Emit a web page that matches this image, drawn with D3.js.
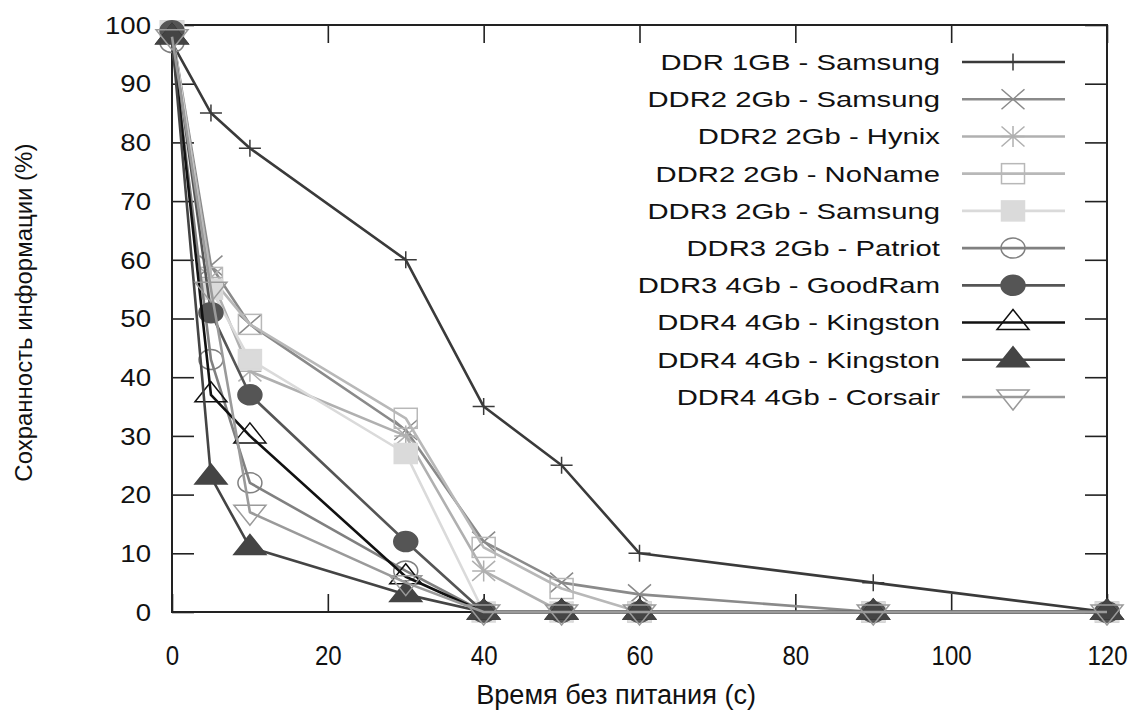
<!DOCTYPE html>
<html>
<head>
<meta charset="utf-8">
<script src="https://cdn.jsdelivr.net/npm/d3@7"></script>
<style>
  body { margin: 0; background: #fff; }
  text { font-family: "Liberation Sans", Arial, sans-serif; fill: #111; }
</style>
</head>
<body>
<div class="vis-holder"></div>
<script>
// time without power (s)
const times = [0, 5, 10, 30, 40, 50, 60, 90, 120];

const seriesNames = [
  'DDR 1GB - Samsung',
  'DDR2 2Gb - Samsung',
  'DDR2 2Gb - Hynix',
  'DDR2 2Gb - NoName',
  'DDR3 2Gb - Samsung',
  'DDR3 2Gb - Patriot',
  'DDR3 4Gb - GoodRam',
  'DDR4 4Gb - Kingston',
  'DDR4 4Gb - Kingston',
  'DDR4 4Gb - Corsair'
];

// retention (%)
const ddr1Samsung   = [97, 85, 79, 60, 35, 25, 10, 5, 0];
const ddr2Samsung   = [99, 59, 49, 31, 12, 5, 3, 0, 0];
const ddr2Hynix     = [99, 57, 41, 30, 7, 0, 0, 0, 0];
const ddr2NoName    = [99, 57, 49, 33, 11, 4, 0, 0, 0];
const ddr3Samsung   = [99, 55, 43, 27, 0, 0, 0, 0, 0];
const ddr3Patriot   = [97, 43, 22, 7, 0, 0, 0, 0, 0];
const ddr3GoodRam   = [99, 51, 37, 12, 0, 0, 0, 0, 0];
const ddr4KingstonA = [98, 37, 30, 6, 0, 0, 0, 0, 0];
const ddr4KingstonB = [98, 23, 11, 3, 0, 0, 0, 0, 0];
const ddr4Corsair   = [98, 55, 17, 5, 0, 0, 0, 0, 0];

const xTicks = [0, 20, 40, 60, 80, 100, 120];
const yTicks = [0, 10, 20, 30, 40, 50, 60, 70, 80, 90, 100];

const seriesValues = [ddr1Samsung, ddr2Samsung, ddr2Hynix, ddr2NoName, ddr3Samsung,
  ddr3Patriot, ddr3GoodRam, ddr4KingstonA, ddr4KingstonB, ddr4Corsair];
const seriesColors = ['#3a3a3a', '#8a8a8a', '#b0b0b0', '#b8b8b8', '#dadada',
  '#808080', '#555555', '#111111', '#444444', '#9a9a9a'];
const seriesMarkers = ['plus', 'cross', 'star', 'square', 'squareFill',
  'circle', 'circleFill', 'triUp', 'triUpFill', 'triDown'];

const width = 1133;
const height = 718;
const margin = {top: 25, right: 26, bottom: 106, left: 172};
const innerW = width - margin.left - margin.right;
const innerH = height - margin.top - margin.bottom;

const svg = d3.select('.vis-holder')
  .append('svg')
    .attr('width', width)
    .attr('height', height);

const chart = svg.append('g')
  .attr('transform', 'translate(' + margin.left + ',' + margin.top + ')');

const xScale = d3.scaleLinear().domain([0, 120]).range([0, innerW]);
const yScale = d3.scaleLinear().domain([0, 100]).range([innerH, 0]);

// gnuplot style: ticks inside, mirrored on all four sides
function styleAxis(g) {
  g.select('.domain').remove();
  g.selectAll('.tick line').attr('stroke', '#222').attr('stroke-width', 1.6);
}

chart.append('g')
  .attr('transform', 'translate(0,' + innerH + ')')
  .call(d3.axisBottom(xScale).tickValues(xTicks).tickSize(-18))
  .call(styleAxis)
  .call(g => g.selectAll('.tick text')
    .attr('y', null).attr('dy', null)
    .attr('font-size', 28)
    .attr('transform', 'translate(0,53) scale(0.86,1)'));

chart.append('g')
  .call(d3.axisTop(xScale).tickValues(xTicks).tickSize(-18).tickFormat(''))
  .call(styleAxis);

chart.append('g')
  .call(d3.axisLeft(yScale).tickValues(yTicks).tickSize(-22))
  .call(styleAxis)
  .call(g => g.selectAll('.tick text')
    .attr('x', null).attr('dy', '0.36em')
    .attr('font-size', 23)
    .attr('transform', 'translate(-21,0) scale(1.2,1)'));

chart.append('g')
  .attr('transform', 'translate(' + innerW + ',0)')
  .call(d3.axisRight(yScale).tickValues(yTicks).tickSize(-22).tickFormat(''))
  .call(styleAxis);

// frame
chart.append('rect')
  .attr('width', innerW)
  .attr('height', innerH)
  .attr('fill', 'none')
  .attr('stroke', '#222')
  .attr('stroke-width', 2);

// axis titles
svg.append('text')
  .attr('x', margin.left + xScale(57))
  .attr('y', 704)
  .attr('text-anchor', 'middle')
  .attr('font-size', 27)
  .attr('textLength', 280)
  .attr('lengthAdjust', 'spacingAndGlyphs')
  .text('Время без питания (с)');

svg.append('text')
  .attr('transform', 'translate(32,' + (margin.top + yScale(51)) + ') rotate(-90)')
  .attr('text-anchor', 'middle')
  .attr('font-size', 24)
  .attr('textLength', 338)
  .attr('lengthAdjust', 'spacingAndGlyphs')
  .text('Сохранность информации (%)');

function drawMarker(g, type, color) {
  const filled = type.endsWith('Fill');
  const fill = filled ? color : 'none';
  const sw = 1.5;
  if (type === 'plus') {
    g.append('path').attr('d', 'M-11,0H11M0,-8.5V8.5')
      .attr('stroke', color).attr('stroke-width', sw).attr('fill', 'none');
  } else if (type === 'cross') {
    g.append('path').attr('d', 'M-11.5,-10L11.5,10M-11.5,10L11.5,-10')
      .attr('stroke', color).attr('stroke-width', sw).attr('fill', 'none');
  } else if (type === 'star') {
    g.append('path').attr('d', 'M-11.5,-10L11.5,10M-11.5,10L11.5,-10M-11.5,0H11.5M0,-10.5V10.5')
      .attr('stroke', color).attr('stroke-width', sw).attr('fill', 'none');
  } else if (type.startsWith('square')) {
    g.append('rect').attr('x', -11.5).attr('y', -10).attr('width', 23).attr('height', 20)
      .attr('stroke', color).attr('stroke-width', sw).attr('fill', fill);
  } else if (type.startsWith('circle')) {
    g.append('ellipse').attr('rx', 12).attr('ry', 10)
      .attr('stroke', color).attr('stroke-width', sw).attr('fill', fill);
  } else if (type.startsWith('triUp')) {
    g.append('path').attr('d', 'M-16,7L16,7L0,-13Z')
      .attr('stroke', color).attr('stroke-width', sw).attr('fill', fill);
  } else if (type === 'triDown') {
    g.append('path').attr('d', 'M-16,-7L16,-7L0,13Z')
      .attr('stroke', color).attr('stroke-width', sw).attr('fill', fill);
  }
}

const line = d3.line()
  .x(d => xScale(d.t))
  .y(d => yScale(d.v));

seriesValues.forEach((values, i) => {
  const pts = times.map((t, j) => ({t: t, v: values[j]}));
  chart.append('path')
    .attr('d', line(pts))
    .attr('fill', 'none')
    .attr('stroke', seriesColors[i])
    .attr('stroke-width', 2.6)
    .attr('stroke-linejoin', 'round');
  pts.forEach(p => {
    const m = chart.append('g')
      .attr('transform', 'translate(' + xScale(p.t) + ',' + yScale(p.v) + ')');
    drawMarker(m, seriesMarkers[i], seriesColors[i]);
  });
});

// legend
const legendRow = d3.scaleLinear().domain([0, 9]).range([62, 397]);
const legend = svg.append('g');
seriesNames.forEach((name, i) => {
  const row = legend.append('g').attr('transform', 'translate(0,' + legendRow(i) + ')');
  row.append('text')
    .attr('text-anchor', 'end')
    .attr('dy', '0.36em')
    .attr('font-size', 22)
    .attr('transform', 'translate(940,0) scale(1.33,1)')
    .text(name);
  row.append('line')
    .attr('x1', 962).attr('x2', 1065)
    .attr('stroke', seriesColors[i])
    .attr('stroke-width', 2.6);
  drawMarker(row.append('g').attr('transform', 'translate(1013,0)'), seriesMarkers[i], seriesColors[i]);
});
</script>
</body>
</html>
